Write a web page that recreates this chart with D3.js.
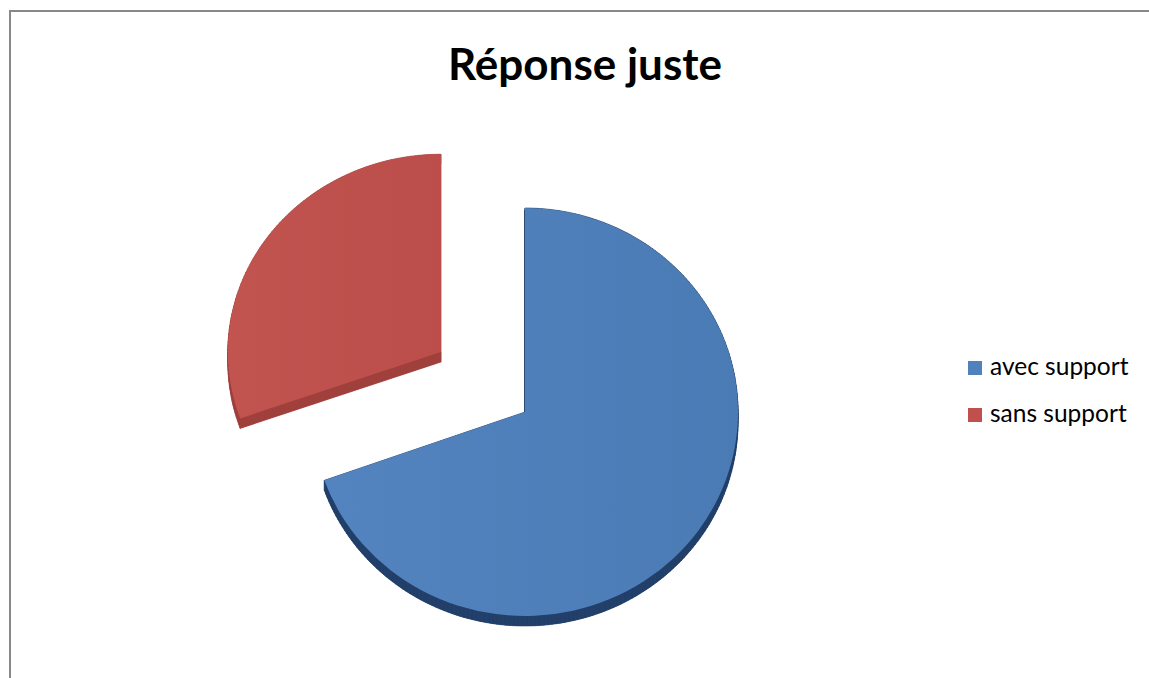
<!DOCTYPE html>
<html><head><meta charset="utf-8">
<script src="https://cdn.jsdelivr.net/npm/d3@7"></script>
<style>html,body{margin:0;padding:0;background:#fff;overflow:hidden}</style>
</head><body>
<svg id="c" width="1149" height="678"></svg>
<script>
const title = "Réponse juste";
const categories = ["avec support", "sans support"];
const values = [16, 7];
const colors = ["#4f81bd", "#c0504d"];
const topLight = ["#5384bf", "#c25450"];
const topDark = ["#4a7bb5", "#bb4e4a"];
const sideColors = ["#22406a", "#a0403d"];
const exploded = [0, 1];

const svg = d3.select("#c");
const W = 1149, H = 678;
svg.append("rect").attr("x", 0).attr("y", 0).attr("width", W).attr("height", H).attr("fill", "#fff");
svg.append("rect").attr("x", 10).attr("y", 11).attr("width", W + 20).attr("height", H + 20)
  .attr("fill", "none").attr("stroke", "#888").attr("stroke-width", 2);

svg.append("text").attr("x", 585).attr("y", 80).attr("text-anchor", "middle")
  .attr("font-family", "Lato, 'Open Sans', sans-serif").attr("font-weight", "bold")
  .attr("font-size", 44).attr("fill", "#000").text(title);

const cx = 525, cy = 412, rx = 213, ry = 204, depth = 10, explodeDist = 103;
const k = ry / rx;

const pie = d3.pie().sort(null).value(d => d)(values);
const defs = svg.append("defs");
pie.forEach((p, i) => {
  const g = defs.append("linearGradient").attr("id", "g" + i)
    .attr("x1", "0").attr("y1", "0").attr("x2", "1").attr("y2", "0");
  g.append("stop").attr("offset", "0").attr("stop-color", topLight[i]);
  g.append("stop").attr("offset", "1").attr("stop-color", topDark[i]);
});

const pieG = svg.append("g");
const arcGen = d3.arc().innerRadius(0).outerRadius(rx);

function outline(p, sy) {
  const pts = [[0, 0]];
  const n = Math.max(2, Math.ceil((p.endAngle - p.startAngle) / 0.02));
  for (let j = 0; j <= n; j++) {
    const a = p.startAngle + (p.endAngle - p.startAngle) * j / n;
    pts.push([rx * Math.sin(a), -ry * sy * Math.cos(a)]);
  }
  return pts;
}

const slices = pie.map((p, i) => {
  const mid = (p.startAngle + p.endAngle) / 2;
  const e = exploded[i] ? explodeDist : 0;
  const sy = exploded[i] ? 0.97 : 1; // farther slice looks slightly flatter
  return {p, i, sy, ox: cx + e * Math.sin(mid), oy: cy - e * Math.cos(mid) * k - (exploded[i] ? 3 : 0)};
});

// sides
slices.forEach(s => {
  const g = pieG.append("g").attr("transform", `translate(${s.ox},${s.oy})`);
  const pts = outline(s.p, s.sy);
  const line = d3.line();
  g.append("path").attr("d", line(pts.map(q => [q[0], q[1] + depth])) + "Z")
    .attr("fill", sideColors[s.i]);
  for (let j = 0; j < pts.length; j++) {
    const a = pts[j], b = pts[(j + 1) % pts.length];
    g.append("path").attr("d", line([a, b, [b[0], b[1] + depth], [a[0], a[1] + depth]]) + "Z")
      .attr("fill", sideColors[s.i]).attr("stroke", sideColors[s.i]).attr("stroke-width", 0.6);
  }
});
// tops
slices.forEach(s => {
  pieG.append("g").attr("transform", `translate(${s.ox},${s.oy}) scale(1,${k * s.sy})`)
    .append("path").attr("d", arcGen(s.p)).attr("fill", `url(#g${s.i})`);
});
// thin edge line on blue vertical cut
pieG.append("line").attr("x1", cx - 0.5).attr("x2", cx - 0.5).attr("y1", cy - ry + 2).attr("y2", cy)
  .attr("stroke", "#2b4a70").attr("stroke-width", 1);

// legend
const leg = svg.append("g");
categories.forEach((c, i) => {
  const y = 361 + i * 47;
  leg.append("rect").attr("x", 968).attr("y", y).attr("width", 14).attr("height", 14).attr("fill", colors[i]);
  leg.append("text").attr("x", 990).attr("y", y + 14).attr("font-family", "Lato, 'Open Sans', sans-serif")
    .attr("font-size", 24.5).attr("fill", "#000").text(c);
});
</script>
</body></html>
